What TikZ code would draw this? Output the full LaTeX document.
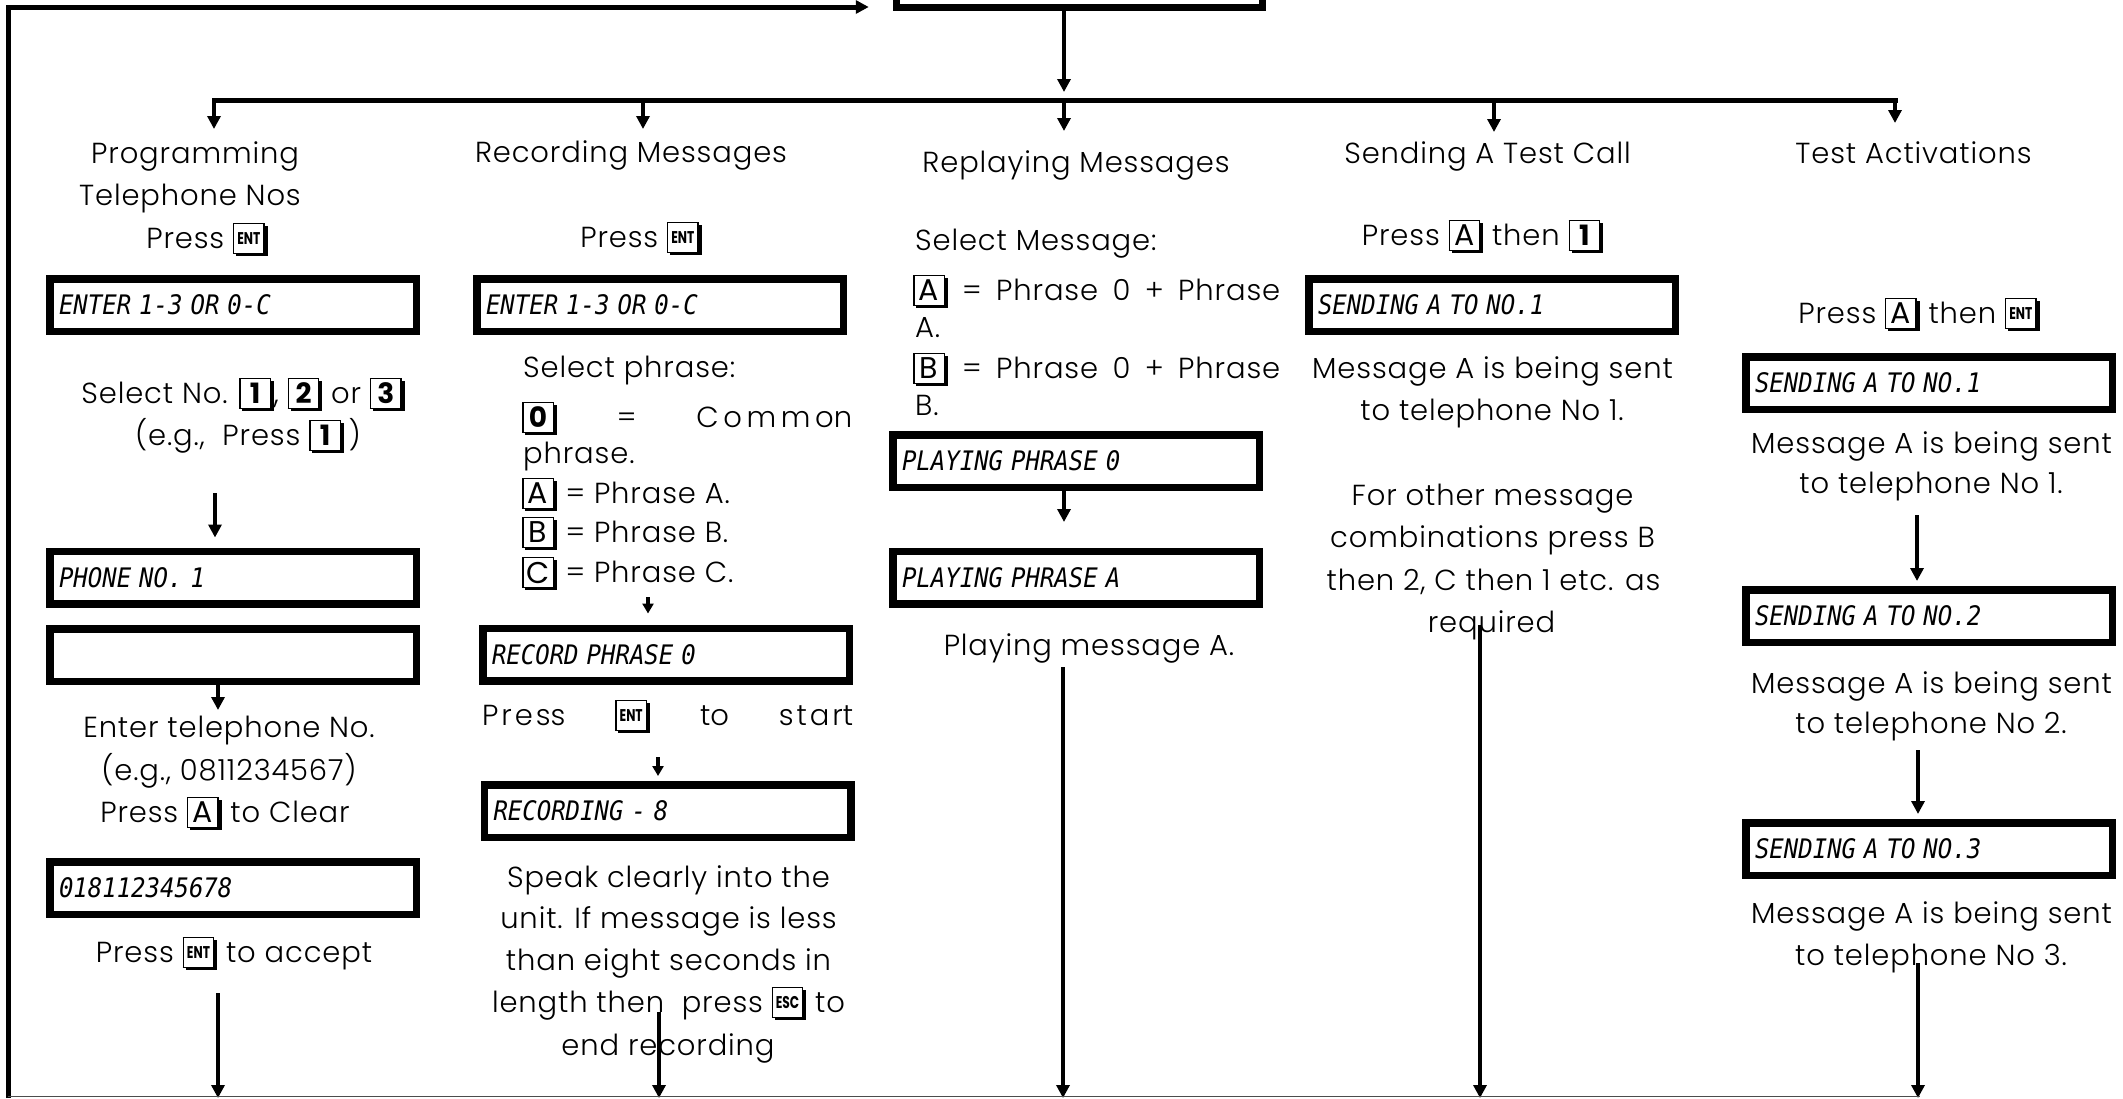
\documentclass[tikz,border=0pt]{standalone}
\usepackage{fontspec}
\usetikzlibrary{arrows.meta}
\IfFontExistsTF{Poppins Light}{\setmainfont{Poppins Light}[LetterSpace=3]}{\setmainfont{Poppins}[LetterSpace=3]}
\newfontfamily\keyfont{Poppins}
\newfontfamily\lcdfont{DejaVu Sans Mono}
\newcommand\keycap[1]{\raisebox{-5pt}{\setbox0=\hbox{\fboxsep=0pt\fboxrule=1.3pt\fcolorbox{black}{white}{\vbox to 29pt{\vss\hbox to 29pt{\hss\keyfont#1\hss}\vss}}}\rlap{\kern3pt\rule[-3pt]{\wd0}{\ht0}}\box0\kern3pt}}
\newcommand\K[1]{\keycap{\fontsize{28}{28}\selectfont\bfseries#1}}
\newcommand\KL[1]{\keycap{\fontsize{30}{30}\selectfont#1}}
\newcommand\ENT{\keycap{\scalebox{0.72}[1]{\fontsize{17}{17}\selectfont\bfseries ENT}}}
\newcommand\ESC{\keycap{\scalebox{0.72}[1]{\fontsize{17}{17}\selectfont\bfseries ESC}}}
\newcommand\lcd[1]{\scalebox{1}[1.12]{#1}}
\tikzset{
  txt/.style={anchor=base, inner sep=0pt, font=\fontsize{29}{42}\selectfont},
  txtl/.style={txt, anchor=base west},
  lcdbox/.style={draw=black, line width=7.5pt, minimum width=366.5pt, minimum height=52.5pt,
    inner xsep=9pt, inner ysep=0pt, text width=348pt, align=left, text height=19.5pt, text depth=0pt,
    font=\lcdfont\fontsize{24}{24}\selectfont\itshape},
  arr/.style={line width=4.5pt, -{Triangle[length=13pt,width=13pt]}},
  sarr/.style={line width=4pt, -{Triangle[length=10pt,width=11pt]}},
  bus/.style={line width=5pt, line cap=rect},
}
\begin{document}
\begin{tikzpicture}[x=1pt,y=-1pt]
\useasboundingbox (0,0) rectangle (2123,1098);
\clip (0,0) rectangle (2123,1098);

% top box
\node[lcdbox, minimum width=365.5pt] (top) at (1079.5,-19) {};

% ---------- column 1
\node[txt] (h1a) at (195,163) {Programming};
\node[txt] (h1b) at (190,205) {Telephone Nos};
\node[txt] (p1) at (207,248) {Press \ENT};
\node[lcdbox] (d1) at (233,305) {\lcd{ENTER 1-3 OR 0-C}};
\node[txt] (s1) at (243,403) {Select No. \K{1}, \K{2} or \K{3}};
\node[txt] (s1b) at (248,445) {(e.g.,\ \ Press \K{1}\,)};
\node[lcdbox] (d2) at (233,577.5) {\lcd{PHONE NO. 1}};
\node[lcdbox] (d3) at (233,655) {};
\node[txt] (e1) at (229,737) {Enter telephone No.};
\node[txt] (e2) at (229,780) {(e.g., 0811234567)};
\node[txt] (e3) at (225,822) {Press \KL{A} to Clear};
\node[lcdbox] (d4) at (233,888) {\lcd{018112345678}};
\node[txt] (e4) at (234,962) {Press \ENT\ to accept};

% ---------- column 2
\node[txt] (h2) at (631,162) {Recording Messages};
\node[txt] (p2) at (641,247) {Press \ENT};
\node[lcdbox] (d5) at (660,305) {\lcd{ENTER 1-3 OR 0-C}};
\node[txtl] (r1) at (523,377) {Select phrase:};
\node[txtl] (r2) at (522,427) {\hbox to 330pt{\K{0}\hfill=\hfill{\addfontfeatures{LetterSpace=16}Commo}n}};
\node[txtl] (r3) at (523,463) {phrase.};
\node[txtl] (r4) at (522,503) {\KL{A} = Phrase A.};
\node[txtl] (r5) at (522,542) {\KL{B} = Phrase B.};
\node[txtl] (r6) at (522,582) {\KL{C} = Phrase C.};
\node[lcdbox] (d6) at (666,654.5) {\lcd{RECORD PHRASE 0}};
\node[txtl] (r7) at (482,725) {\hbox to 371pt{{\addfontfeatures{LetterSpace=10}Pres}s\hfill\ENT\hfill {\addfontfeatures{LetterSpace=10}t}o\hfill {\addfontfeatures{LetterSpace=10}star}t}};
\node[lcdbox] (d7) at (667.5,811) {\lcd{RECORDING - 8}};
\node[txt] (q1) at (668.5,887) {Speak clearly into the};
\node[txt] (q2) at (668.5,928) {unit. If message is less};
\node[txt] (q3) at (668.5,970) {than eight seconds in};
\node[txt] (q4) at (668.5,1012) {length then\ \ press \ESC\ to};
\node[txt] (q5) at (668,1055) {end recording};

% ---------- column 3
\node[txt] (h3) at (1076,172) {Replaying Messages};
\node[txtl] (m1) at (915,250) {Select Message:};
\node[txtl] (m2) at (913,300) {\hbox to 367pt{\KL{A}\hfill=\hfill Phrase\hfill 0\hfill +\hfill Phrase}};
\node[txtl] (m3) at (915,337) {A.};
\node[txtl] (m4) at (913,378) {\hbox to 367pt{\KL{B}\hfill=\hfill Phrase\hfill 0\hfill +\hfill Phrase}};
\node[txtl] (m5) at (915,415) {B.};
\node[lcdbox] (d8) at (1076,461) {\lcd{PLAYING PHRASE 0}};
\node[lcdbox] (d9) at (1076,577.5) {\lcd{PLAYING PHRASE A}};
\node[txt] (m6) at (1089,655) {Playing message A.};

% ---------- column 4
\node[txt] (h4) at (1487.5,163) {Sending A Test Call};
\node[txt] (p4) at (1482.5,245) {Press \KL{A} then \K{1}};
\node[lcdbox] (d10) at (1492,305) {\lcd{SENDING A TO NO.1}};
\node[txt] (t1) at (1492.5,378) {Message A is being sent};
\node[txt] (t2) at (1492,420) {to telephone No 1.};
\node[txt] (t3) at (1492.5,505) {For other message};
\node[txt] (t4) at (1492.5,547) {combinations press B};
\node[txt] (t5) at (1493.5,590) {then 2, C then 1 etc. as};
\node[txt] (t6) at (1491.5,632) {required};

% ---------- column 5
\node[txt] (h5) at (1913.5,163) {Test Activations};
\node[txt] (p5) at (1919,323) {Press \KL{A} then \ENT};
\node[lcdbox] (d11) at (1929,383) {\lcd{SENDING A TO NO.1}};
\node[txt] (u1) at (1931.5,453) {Message A is being sent};
\node[txt] (u2) at (1931,493) {to telephone No 1.};
\node[lcdbox] (d12) at (1929,616) {\lcd{SENDING A TO NO.2}};
\node[txt] (u3) at (1931.5,693) {Message A is being sent};
\node[txt] (u4) at (1931,733) {to telephone No 2.};
\node[lcdbox] (d13) at (1929,849) {\lcd{SENDING A TO NO.3}};
\node[txt] (u5) at (1931.5,923) {Message A is being sent};
\node[txt] (u6) at (1931,965) {to telephone No 3.};

% ---------- connectors
\coordinate (L0) at (8,1098);
\coordinate (Ltop) at (8,7);
\coordinate (B1) at (214,100);
\coordinate (B2) at (643,100);
\coordinate (B3) at (1064,100);
\coordinate (B4) at (1494,100);
\coordinate (B5) at (1895,100);

\draw[arr, line width=5pt, shorten >=24pt] (L0) |- (top.west |- Ltop);
\draw[arr, shorten >=8pt] (top.south -| B3) -- (B3);
\draw[bus] (B1) -- (B5);
\draw[arr] (B1) -- ++(0,29);
\draw[arr] (B2) -- ++(0,29);
\draw[arr] (B3) -- ++(0,31);
\draw[arr] (B4) -- ++(0,32);
\draw[arr] (B5) -- ++(0,23);

% column 1
\coordinate (a1s) at (215,493);
\draw[arr, shorten >=10pt] (a1s) -- (a1s |- d2.north);
\coordinate (a2e) at (218,710);
\draw[arr] (a2e |- d3.south) -- (a2e);
\coordinate (a3s) at (218,993);
\draw[arr] (a3s) -- (218,1098);

% column 2
\coordinate (a4s) at (648,597);
\draw[sarr, shorten >=11pt] (a4s) -- (a4s |- d6.north);
\coordinate (a5s) at (658,757);
\draw[sarr, shorten >=5pt] (a5s) -- (a5s |- d7.north);
\coordinate (a6s) at (659,1012);
\draw[arr] (a6s) -- (659,1098);

% column 3
\coordinate (a7e) at (1064,522);
\draw[arr] (a7e |- d8.south) -- (a7e);
\coordinate (a8s) at (1063,667);
\draw[arr] (a8s) -- (1063,1098);

% column 4
\coordinate (a9s) at (1480,625);
\draw[arr] (a9s) -- (1480,1098);

% column 5
\coordinate (b1s) at (1917,515);
\draw[arr, shorten >=5pt] (b1s) -- (b1s |- d12.north);
\coordinate (b2s) at (1918,750);
\draw[arr, shorten >=5pt] (b2s) -- (b2s |- d13.north);
\coordinate (b3s) at (1918,963);
\draw[arr] (b3s) -- (1918,1098);

% bottom rule
\draw[line width=1.5pt, black!70] (8,1096.5) -- (1920,1096.5);
\end{tikzpicture}
\end{document}
